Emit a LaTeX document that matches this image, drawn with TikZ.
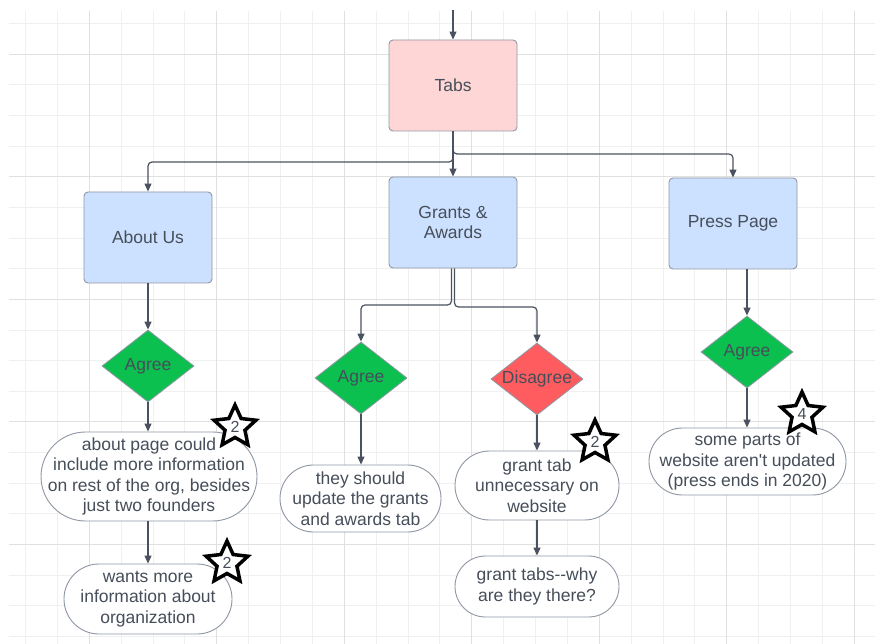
\documentclass[tikz,border=0pt]{standalone}
\usepackage{fontspec}
\setmainfont{Liberation Sans}[Ligatures=TeXOff]
\usetikzlibrary{arrows.meta,shapes.geometric}
\definecolor{txt}{HTML}{464E5A}
\definecolor{linec}{HTML}{4A5260}
\definecolor{bord}{HTML}{8E97A3}
\definecolor{pinkf}{HTML}{FFD6D6}
\definecolor{bluef}{HTML}{CCE1FF}
\definecolor{greenf}{HTML}{0BC04F}
\definecolor{redf}{HTML}{FF5C60}
\definecolor{gridminor}{HTML}{F0F0F0}
\definecolor{gridmajor}{HTML}{E0E0E0}
\tikzset{
  boxn/.style={draw=bord, line width=0.9pt, rounded corners=4pt, minimum width=128pt, minimum height=91pt, inner sep=0pt, align=center, text=txt, font=\fontsize{17.5}{20.5}\selectfont},
  dia/.style={diamond, draw=bord, line width=0.8pt, aspect=1.28, minimum width=92pt, minimum height=72pt, inner sep=0pt, text=txt, font=\fontsize{17.5}{20.5}\selectfont},
  pill/.style={draw=bord, line width=0.9pt, fill=white, inner sep=0pt, align=center, text=txt, font=\fontsize{17.5}{20.5}\selectfont},
  starn/.style={star, star points=5, star point ratio=2.1, minimum size=44pt, inner sep=0pt, draw=black, line width=3.5pt, fill=white, text=txt, font=\fontsize{16}{16}\selectfont},
  conn/.style={draw=linec, line width=1.2pt, rounded corners=4pt, -{Triangle[length=8pt,width=7pt]}},
}
\begin{document}
\begin{tikzpicture}[x=1pt,y=-1pt]
\useasboundingbox (0,0) rectangle (875,644);
\fill[white] (0,0) rectangle (875,644);
% grid
\foreach \k in {0,...,26} {
  \draw[gridminor, line width=1pt] ({25.5+31.875*\k},11) -- ({25.5+31.875*\k},644);
}
\foreach \k in {0,...,20} {
  \draw[gridminor, line width=1pt] (9,{23.5+30.65*\k}) -- (875,{23.5+30.65*\k});
}
\foreach \k in {0,...,6} {
  \draw[gridmajor, line width=1pt] ({89.25+127.5*\k},11) -- ({89.25+127.5*\k},644);
}
\foreach \k in {0,...,4} {
  \draw[gridmajor, line width=1pt] (9,{54.15+122.6*\k}) -- (875,{54.15+122.6*\k});
}

% boxes
\node[boxn, fill=pinkf] (tabs) at (453,85.5) {Tabs};
\node[boxn, fill=bluef] (about) at (148,237.5) {About Us};
\node[boxn, fill=bluef] (grants) at (453,222.5) {Grants \&\\Awards};
\node[boxn, fill=bluef] (press) at (733,223.5) {Press Page};

% diamonds
\node[dia, fill=greenf] (aagree) at (148,366) {\makebox[0pt]{Agree}};
\node[dia, fill=greenf] (gagree) at (361,378) {\makebox[0pt]{Agree}};
\node[dia, fill=redf] (dis) at (537,379) {\makebox[0pt]{Disagree}};
\node[dia, fill=greenf] (pagree) at (747,352) {\makebox[0pt]{Agree}};

% pills
\node[pill, minimum width=216pt, minimum height=89pt, rounded corners=44.5pt] (t1) at (149,476.5) {about page could\\include more information\\on rest of the org, besides\\just two founders};
\node[pill, minimum width=168pt, minimum height=70pt, rounded corners=35pt] (t2) at (148,599) {wants more\\information about\\organization};
\node[pill, minimum width=161pt, minimum height=67pt, rounded corners=33.5pt] (t3) at (360.5,498.5) {they should\\update the grants\\and awards tab};
\node[pill, minimum width=164pt, minimum height=69pt, rounded corners=34.5pt] (t4) at (537,485.5) {grant tab\\unnecessary on\\website};
\node[pill, minimum width=164pt, minimum height=61pt, rounded corners=30.5pt] (t5) at (537,586.5) {grant tabs--why\\are they there?};
\node[pill, minimum width=197pt, minimum height=67pt, rounded corners=33.5pt] (t6) at (747.5,461.5) {some parts of\\website aren't updated\\(press ends in 2020)};

% helper coordinates
\coordinate (topin) at (453,10);
\coordinate (yL) at (0,162);
\coordinate (yR) at (0,154);
\coordinate (yG1) at (0,305);
\coordinate (yG2) at (0,307);

% connectors
\draw[conn] (topin) -- (tabs.north);
\draw[conn] (tabs.south) |- (about.north |- yL) -- (about.north);
\draw[conn] (tabs.south) -- (grants.north);
\draw[conn] (tabs.south) |- (press.north |- yR) -- (press.north);
\draw[conn] ([xshift=-1.5pt]grants.south) |- (gagree.north |- yG1) -- (gagree.north);
\draw[conn] ([xshift=1.5pt]grants.south) |- (dis.north |- yG2) -- (dis.north);
\draw[conn] (about.south) -- (aagree.north);
\draw[conn] (aagree.south) -- (aagree.south |- t1.north);
\draw[conn] (t1.south -| t2.north) -- (t2.north);
\draw[conn] (gagree.south) -- (gagree.south |- t3.north);
\draw[conn] (dis.south) -- (dis.south |- t4.north);
\draw[conn] (t4.south) -- (t5.north);
\draw[conn] (press.south -| pagree.north) -- (pagree.north);
\draw[conn] (pagree.south) -- (pagree.south |- t6.north);

% stars
\node[starn] (s1) at (235,427) {2};
\node[starn] (s2) at (227,563) {2};
\node[starn] (s3) at (595,442) {2};
\node[starn] (s4) at (802,414) {4};
\end{tikzpicture}
\end{document}
